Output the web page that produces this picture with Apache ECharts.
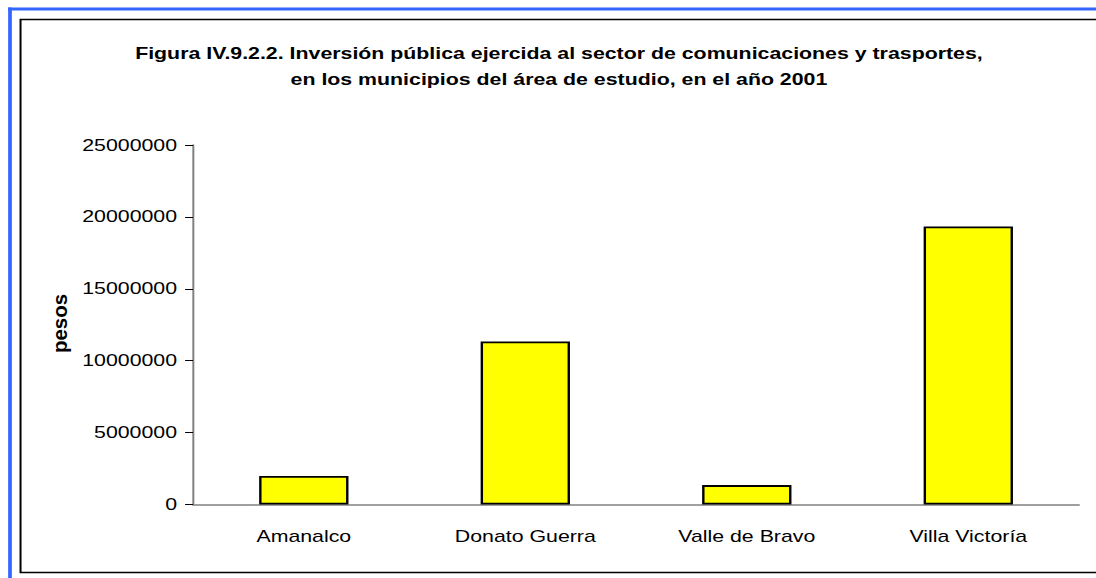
<!DOCTYPE html>
<html>
<head>
<meta charset="utf-8">
<script src="https://cdn.jsdelivr.net/npm/echarts@6/dist/echarts.min.js"></script>
<style>
  html, body { margin: 0; padding: 0; background: #fff; overflow: hidden; }
  /* the figure is laid out narrow and widened horizontally, giving the broad lettering */
  #chart {
    width: 840px;
    height: 578px;
    transform: scaleX(1.3333);
    transform-origin: 0 0;
  }
</style>
</head>
<body>
<div id="chart"></div>
<script>
// Municipios y monto invertido (pesos)
const municipios = ['Amanalco', 'Donato Guerra', 'Valle de Bravo', 'Villa Victoría'];
const inversion = [1980000, 11330000, 1350000, 19330000];
const yTicks = [0, 5000000, 10000000, 15000000, 20000000, 25000000];
const yTitulo = 'pesos';

const tituloLineas = [
  'Figura IV.9.2.2. Inversión pública ejercida al sector de comunicaciones y trasportes,',
  'en los municipios del área de estudio, en el año 2001'
];

const FONT = '"Liberation Sans", Arial, sans-serif';
const STRETCH = 1.3333;

const chart = echarts.init(document.getElementById('chart'), null, { renderer: 'svg' });

chart.setOption({
  animation: false,
  backgroundColor: '#ffffff',
  title: {
    text: tituloLineas.join('\n'),
    left: 414.2,
    top: 35,
    textAlign: 'center',
    textStyle: {
      fontFamily: FONT,
      fontSize: 16,
      fontWeight: 'bold',
      color: '#000',
      lineHeight: 26,
      align: 'center'
    }
  },
  grid: {
    left: 144.8,
    right: 30.7,
    top: 145,
    bottom: 73.5,
    containLabel: false
  },
  xAxis: {
    type: 'category',
    data: municipios,
    axisLine: { show: true, lineStyle: { color: '#808080', width: 1.5 } },
    axisTick: { show: false },
    axisLabel: {
      fontFamily: FONT,
      fontSize: 16,
      color: '#000',
      margin: 24
    },
    splitLine: { show: false }
  },
  yAxis: {
    type: 'value',
    min: yTicks[0],
    max: yTicks[yTicks.length - 1],
    interval: yTicks[1] - yTicks[0],
    axisLine: { show: true, lineStyle: { color: '#808080', width: 1.5 } },
    axisTick: { show: true, length: 6, inside: false, lineStyle: { color: '#000', width: 1 } },
    axisLabel: {
      fontFamily: FONT,
      fontSize: 16,
      color: '#000',
      margin: 12,
      formatter: (v) => String(v)
    },
    splitLine: { show: false }
  },
  series: [{
    type: 'bar',
    data: inversion,
    barWidth: 67,
    itemStyle: {
      color: '#ffff00',
      borderColor: '#000',
      borderWidth: 1.8
    }
  }],
  graphic: [
    // título del eje vertical, compensado para no ensancharse al girar
    {
      type: 'text',
      x: 44.3,
      y: 323.5,
      rotation: Math.PI / 2,
      scaleY: 1 / STRETCH,
      style: {
        text: yTitulo,
        fontFamily: FONT,
        fontSize: 20.5,
        fontWeight: 'bold',
        fill: '#000',
        align: 'center',
        verticalAlign: 'middle'
      },
      silent: true,
      z: 100
    },
    // marco exterior
    {
      type: 'rect',
      shape: { x: 15.4, y: 19.5, width: 900, height: 553 },
      style: { fill: 'none', stroke: '#000', lineWidth: 1.5 },
      silent: true,
      z: 100
    },
    // borde azul superior
    {
      type: 'line',
      shape: { x1: 6, y1: 9, x2: 840, y2: 9 },
      style: { stroke: '#3366ff', lineWidth: 3 },
      silent: true,
      z: 100
    },
    // borde azul izquierdo
    {
      type: 'line',
      shape: { x1: 7.5, y1: 7.5, x2: 7.5, y2: 578 },
      style: { stroke: '#3366ff', lineWidth: 2.8 },
      silent: true,
      z: 100
    }
  ]
});
</script>
</body>
</html>
